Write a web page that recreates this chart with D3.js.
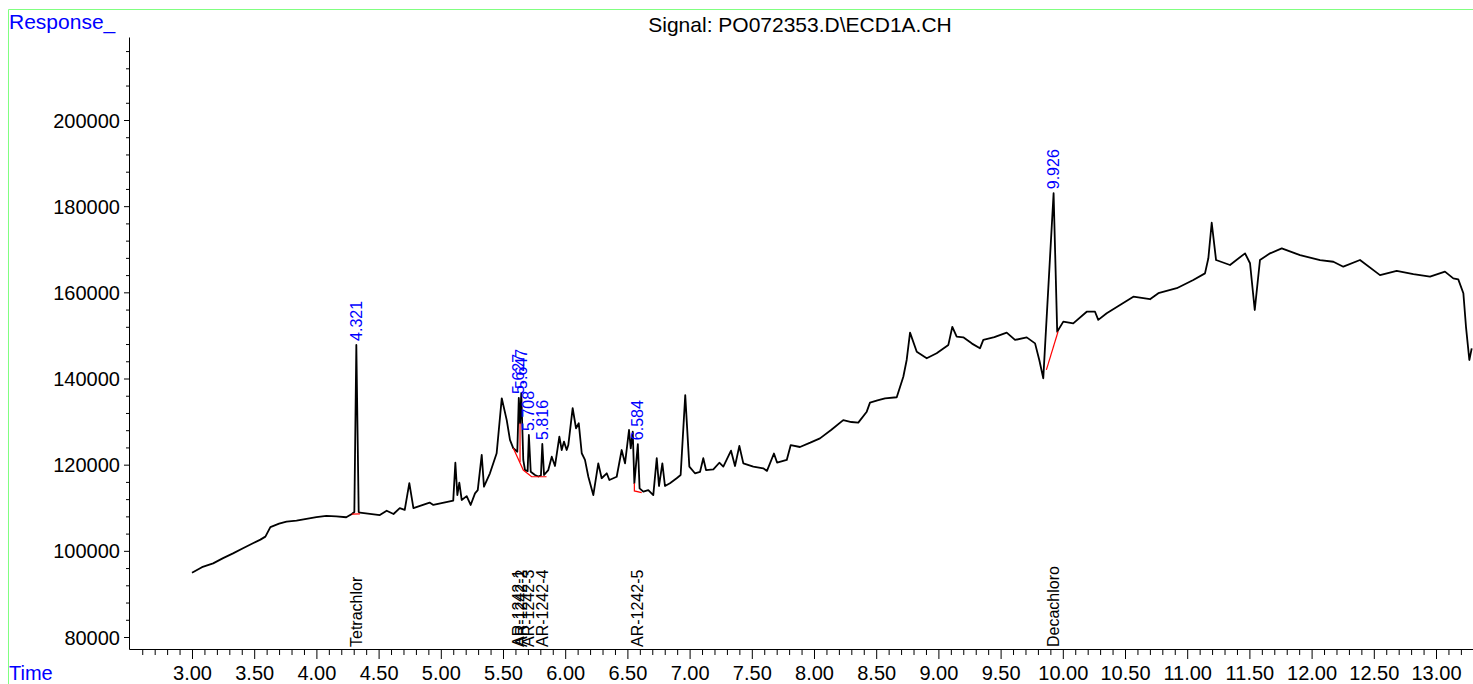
<!DOCTYPE html>
<html>
<head>
<meta charset="utf-8">
<script src="https://cdn.jsdelivr.net/npm/d3@7"></script>
<style>
  body { margin: 0; background: #fff; }
  svg { display: block; font-family: "Liberation Sans", Arial, sans-serif; }
</style>
</head>
<body>
<script>
// chromatogram trace, [retention time (min), response]
const signal = [
  [3.00, 94900], [3.08, 96200], [3.17, 97100], [3.25, 98300], [3.33, 99400], [3.41, 100600],
  [3.49, 101750], [3.55, 102600], [3.59, 103300], [3.63, 105500], [3.70, 106300], [3.76, 106800],
  [3.84, 107000], [3.92, 107400], [4.00, 107800], [4.08, 108100], [4.16, 108000], [4.24, 107800],
  [4.285, 108550], [4.305, 109000], [4.321, 147800], [4.340, 109000], [4.35, 108850],
  [4.51, 108300], [4.565, 109300], [4.62, 108550], [4.67, 109900], [4.71, 109500],
  [4.747, 115700], [4.78, 109900], [4.91, 111200], [4.94, 110650], [5.10, 111650],
  [5.117, 120450], [5.133, 112950], [5.149, 115800], [5.168, 111800], [5.208, 112700],
  [5.240, 110650], [5.275, 113350], [5.297, 114100], [5.329, 122250], [5.347, 114900],
  [5.395, 118000], [5.449, 122650], [5.490, 135400], [5.530, 130350], [5.556, 125750],
  [5.583, 123800], [5.615, 123000], [5.627, 135500], [5.637, 129600], [5.647, 136650],
  [5.663, 121100], [5.677, 118750], [5.698, 118500], [5.708, 126900], [5.723, 118350],
  [5.757, 117600], [5.785, 117250], [5.805, 117500], [5.816, 124800], [5.830, 117600],
  [5.864, 118750], [5.892, 121850], [5.918, 119700], [5.953, 126500], [5.972, 123400],
  [5.990, 125350], [6.012, 123400], [6.025, 124550], [6.060, 133100], [6.087, 128450],
  [6.109, 129600], [6.133, 122650], [6.159, 121100], [6.186, 117200], [6.226, 112950],
  [6.266, 120300], [6.293, 116850], [6.334, 118000], [6.355, 116450], [6.414, 117200],
  [6.454, 123400], [6.481, 120300], [6.513, 128050], [6.527, 123800], [6.543, 127650],
  [6.556, 115700], [6.584, 124750], [6.598, 114500], [6.628, 113750], [6.668, 114100],
  [6.708, 112950], [6.736, 121500], [6.754, 115050], [6.781, 120300], [6.802, 115050],
  [6.842, 115700], [6.896, 116850], [6.928, 117600], [6.965, 136150], [6.998, 119550],
  [7.043, 118000], [7.084, 118350], [7.110, 121500], [7.132, 118750], [7.191, 118900],
  [7.239, 120450], [7.271, 119550], [7.333, 123250], [7.365, 119700], [7.400, 124350],
  [7.432, 120300], [7.512, 119550], [7.592, 119150], [7.622, 118550], [7.678, 122600],
  [7.703, 120500], [7.781, 121100], [7.813, 124550], [7.887, 124100], [7.970, 125100],
  [8.048, 126100], [8.140, 128100], [8.235, 130350], [8.300, 129900], [8.356, 129750],
  [8.424, 132300], [8.450, 134400], [8.510, 134900], [8.571, 135400], [8.665, 135650],
  [8.718, 140400], [8.745, 144300], [8.772, 150650], [8.826, 146200], [8.906, 144700],
  [8.986, 145850], [9.080, 147800], [9.112, 152000], [9.147, 149700], [9.200, 149550],
  [9.270, 148100], [9.334, 147000], [9.361, 148950], [9.450, 149600], [9.549, 150650],
  [9.616, 148950], [9.710, 149550], [9.777, 148150], [9.811, 144300], [9.843, 140050],
  [9.926, 183000], [9.955, 150850], [10.004, 153200], [10.084, 152800], [10.192, 155500],
  [10.259, 155500], [10.285, 153600], [10.353, 155150], [10.460, 157050], [10.567, 159000],
  [10.701, 158400], [10.768, 159800], [10.916, 160950], [11.049, 162850], [11.143, 164400],
  [11.170, 167900], [11.197, 176150], [11.232, 167500], [11.344, 166350], [11.465, 169050],
  [11.505, 166750], [11.543, 155900], [11.585, 167500], [11.666, 169050], [11.760, 170200],
  [11.907, 168650], [12.068, 167500], [12.175, 167100], [12.255, 165950], [12.389, 167500],
  [12.550, 164000], [12.684, 165000], [12.818, 164250], [12.952, 163650], [13.072, 164800],
  [13.139, 163250], [13.179, 163000], [13.220, 159800], [13.241, 152000], [13.268, 144300],
  [13.287, 147000]
];

const peakTimes = [4.321, 5.627, 5.647, 5.708, 5.816, 6.584, 9.926];
const peakHeights = [147800, 135500, 136650, 126900, 124800, 124750, 183000];
const compoundNames = ["Tetrachlor", "AR-1242-1", "AR-1242-2", "AR-1242-3", "AR-1242-4", "AR-1242-5", "Decachloro"];

// red baselines / drop lines from integration
const integrationLines = [
  [[4.285, 108500], [4.350, 108600]],
  [[5.583, 123800], [5.663, 118750], [5.730, 117200], [5.850, 117200]],
  [[5.637, 129600], [5.637, 120600]],
  [[6.556, 115700], [6.556, 113900], [6.615, 113500]],
  [[9.868, 142000], [9.962, 150900]]
];

const xTicks = [3.0, 3.5, 4.0, 4.5, 5.0, 5.5, 6.0, 6.5, 7.0, 7.5, 8.0, 8.5, 9.0, 9.5, 10.0, 10.5, 11.0, 11.5, 12.0, 12.5, 13.0];
const yTicks = [80000, 100000, 120000, 140000, 160000, 180000, 200000];

const width = 1473, height = 684;

const svg = d3.select("body").append("svg")
  .attr("width", width)
  .attr("height", height);

// green frame
svg.append("path")
  .attr("d", `M8.5,${height + 5}V9.5H${width + 5}`)
  .attr("fill", "none")
  .attr("stroke", "#80ff80")
  .attr("stroke-width", 1);

const x = d3.scaleLinear().domain([2.4936, 13.2974]).range([129, 1473]);
const y = d3.scaleLinear().domain([77215, 219265]).range([649, 37]);

// minor ticks
const xMinor = d3.range(26, 133).map(d => d / 10).filter(d => Math.round(d * 10) % 5 !== 0);
const yMinor = d3.range(20, 55).map(d => d * 4000).filter(d => d % 20000 !== 0);

svg.append("g")
  .attr("transform", "translate(0,649)")
  .call(d3.axisBottom(x).tickValues(xMinor).tickSize(6).tickFormat(""))
  .call(g => g.select(".domain").remove());

svg.append("g")
  .attr("transform", "translate(129,0)")
  .call(d3.axisLeft(y).tickValues(yMinor).tickSize(3).tickFormat(""))
  .call(g => g.select(".domain").remove());

// major axes
const xAxis = svg.append("g")
  .attr("transform", "translate(0,649)")
  .call(d3.axisBottom(x).tickValues(xTicks).tickSize(10).tickSizeOuter(0)
    .tickPadding(7).tickFormat(d3.format(".2f")));

const yAxis = svg.append("g")
  .attr("transform", "translate(129,0)")
  .call(d3.axisLeft(y).tickValues(yTicks).tickSize(5).tickSizeOuter(0)
    .tickPadding(4).tickFormat(d3.format("d")));

svg.selectAll(".tick text")
  .attr("font-family", "Liberation Sans, Arial, sans-serif")
  .attr("font-size", 20)
  .attr("fill", "#000");
yAxis.selectAll(".tick text").attr("dy", "0.35em");

// trace
const line = d3.line().x(d => x(d[0])).y(d => y(d[1]));

svg.append("path")
  .datum(signal)
  .attr("d", line)
  .attr("fill", "none")
  .attr("stroke", "#000")
  .attr("stroke-width", 1.8)
  .attr("stroke-linejoin", "round");

svg.selectAll(".baseline")
  .data(integrationLines)
  .join("path")
  .attr("class", "baseline")
  .attr("d", line)
  .attr("fill", "none")
  .attr("stroke", "#ff0000")
  .attr("stroke-width", 1.2);

// retention time labels
svg.selectAll(".rt")
  .data(peakTimes)
  .join("text")
  .attr("class", "rt")
  .attr("transform", (d, i) => `translate(${x(d)},${y(peakHeights[i]) - 4}) rotate(-90)`)
  .attr("dy", "0.35em")
  .attr("font-size", 16)
  .attr("fill", "#0000ff")
  .text(d => d3.format(".3f")(d));

// compound names
svg.selectAll(".cmp")
  .data(compoundNames)
  .join("text")
  .attr("class", "cmp")
  .attr("transform", (d, i) => `translate(${x(peakTimes[i])},647) rotate(-90)`)
  .attr("dy", "0.35em")
  .attr("font-size", 16)
  .attr("fill", "#000")
  .text(d => d);

// titles
svg.append("text")
  .attr("x", 9).attr("y", 29)
  .attr("font-size", 21)
  .attr("fill", "#0000ff")
  .text("Response_");

svg.append("text")
  .attr("x", 9).attr("y", 680)
  .attr("font-size", 20)
  .attr("fill", "#0000ff")
  .text("Time");

svg.append("text")
  .attr("x", 800).attr("y", 32)
  .attr("text-anchor", "middle")
  .attr("font-size", 21)
  .attr("fill", "#000")
  .text("Signal: PO072353.D\\ECD1A.CH");
</script>
</body>
</html>
